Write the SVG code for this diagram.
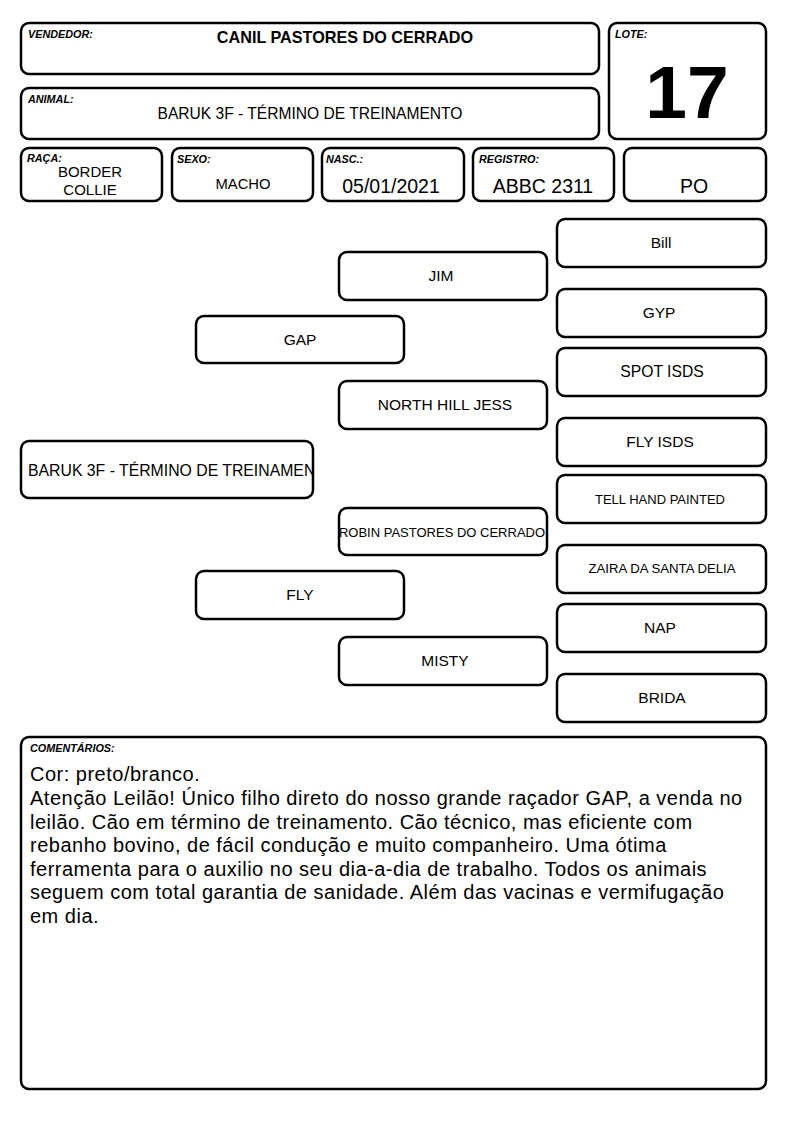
<svg xmlns="http://www.w3.org/2000/svg" width="794" height="1123" viewBox="0 0 794 1123">
<defs>
<style>
.b{fill:#fff;stroke:#000;stroke-width:2.5}
.lbl{font-family:"Liberation Sans",Arial,sans-serif;font-weight:bold;font-style:italic;font-size:10.8px;fill:#000}
.t{font-family:"Liberation Sans",Arial,sans-serif;fill:#000;text-anchor:middle}
.c{font-family:"Liberation Sans",Arial,sans-serif;font-size:20px;letter-spacing:0.5px;fill:#000}
</style>
<clipPath id="clipBaruk"><rect x="22" y="442" width="290" height="55"/></clipPath>
</defs>
<rect width="794" height="1123" fill="#fff"/>
<g id="vendedor">
<rect class="b" x="21" y="23" width="578" height="51" rx="8"/>
<text class="lbl" x="28" y="38">VENDEDOR:</text>
<text class="t" x="345" y="43" font-size="16.2" font-weight="bold">CANIL PASTORES DO CERRADO</text>
</g>
<g id="animal">
<rect class="b" x="21" y="88" width="578" height="51" rx="8"/>
<text class="lbl" x="28" y="103">ANIMAL:</text>
<text class="t" x="310" y="119" font-size="15.6">BARUK 3F - TÉRMINO DE TREINAMENTO</text>
</g>
<g id="lote">
<rect class="b" x="609" y="23" width="157" height="116" rx="8"/>
<text class="lbl" x="615" y="38">LOTE:</text>
<text class="t" x="687" y="118" font-size="75" font-weight="bold">17</text>
</g>
<g id="raca">
<rect class="b" x="21" y="148" width="141" height="53" rx="8"/>
<text class="lbl" x="27" y="162">RAÇA:</text>
<text class="t" x="90" y="177" font-size="15">BORDER</text>
<text class="t" x="90" y="195" font-size="15">COLLIE</text>
</g>
<g id="sexo">
<rect class="b" x="172" y="148" width="141" height="53" rx="8"/>
<text class="lbl" x="177" y="163">SEXO:</text>
<text class="t" x="243" y="189" font-size="14.8">MACHO</text>
</g>
<g id="nasc">
<rect class="b" x="322" y="148" width="142" height="53" rx="8"/>
<text class="lbl" x="326" y="163">NASC.:</text>
<text class="t" x="391" y="193" font-size="19.5">05/01/2021</text>
</g>
<g id="registro">
<rect class="b" x="473" y="148" width="141" height="53" rx="8"/>
<text class="lbl" x="479" y="163">REGISTRO:</text>
<text class="t" x="543" y="193" font-size="19.5">ABBC 2311</text>
</g>
<g id="po">
<rect class="b" x="624" y="148" width="142" height="53" rx="8"/>
<text class="t" x="694" y="193" font-size="19.5">PO</text>
</g>
<g id="baruk">
<rect class="b" x="21" y="441" width="292" height="57" rx="8"/>
<text x="28" y="476" font-family="Liberation Sans,Arial,sans-serif" font-size="15.8" clip-path="url(#clipBaruk)">BARUK 3F - TÉRMINO DE TREINAMENTO</text>
</g>
<g id="gap">
<rect class="b" x="196" y="316" width="208" height="47" rx="8"/>
<text class="t" x="300" y="345" font-size="15.5">GAP</text>
</g>
<g id="fly">
<rect class="b" x="196" y="571" width="208" height="48" rx="8"/>
<text class="t" x="300" y="600" font-size="15.5">FLY</text>
</g>
<g id="jim">
<rect class="b" x="339" y="252" width="208" height="48" rx="8"/>
<text class="t" x="441" y="281" font-size="15.5">JIM</text>
</g>
<g id="northhilljess">
<rect class="b" x="339" y="381" width="208" height="48" rx="8"/>
<text class="t" x="445" y="410" font-size="15.5">NORTH HILL JESS</text>
</g>
<g id="robin">
<rect class="b" x="339" y="508" width="208" height="47" rx="8"/>
<text class="t" x="442" y="537" font-size="13">ROBIN PASTORES DO CERRADO</text>
</g>
<g id="misty">
<rect class="b" x="339" y="637" width="208" height="48" rx="8"/>
<text class="t" x="445" y="666" font-size="15.5">MISTY</text>
</g>
<g id="bill">
<rect class="b" x="557" y="219" width="209" height="48" rx="8"/>
<text class="t" x="661" y="248" font-size="15.5">Bill</text>
</g>
<g id="gyp">
<rect class="b" x="557" y="289" width="209" height="48" rx="8"/>
<text class="t" x="659" y="318" font-size="15.5">GYP</text>
</g>
<g id="spotisds">
<rect class="b" x="557" y="348" width="209" height="48" rx="8"/>
<text class="t" x="662" y="377" font-size="15.7">SPOT ISDS</text>
</g>
<g id="flyisds">
<rect class="b" x="557" y="418" width="209" height="48" rx="8"/>
<text class="t" x="660" y="447" font-size="15.5">FLY ISDS</text>
</g>
<g id="tellhandpainted">
<rect class="b" x="557" y="475" width="209" height="48" rx="8"/>
<text class="t" x="660" y="504" font-size="13">TELL HAND PAINTED</text>
</g>
<g id="zaira">
<rect class="b" x="557" y="545" width="209" height="48" rx="8"/>
<text class="t" x="662" y="573" font-size="13.2">ZAIRA DA SANTA DELIA</text>
</g>
<g id="nap">
<rect class="b" x="557" y="604" width="209" height="48" rx="8"/>
<text class="t" x="660" y="633" font-size="15.5">NAP</text>
</g>
<g id="brida">
<rect class="b" x="557" y="674" width="209" height="48" rx="8"/>
<text class="t" x="662" y="703" font-size="15.5">BRIDA</text>
</g>
<g id="connectors"></g>
<g id="comentarios">
<rect class="b" x="21" y="737" width="745" height="352" rx="8"/>
<text class="lbl" x="30" y="752">COMENTÁRIOS:</text>
<text class="c" x="30" y="781">Cor: preto/branco.</text>
<text class="c" x="30" y="805">Atenção Leilão! Único filho direto do nosso grande raçador GAP, a venda no</text>
<text class="c" x="30" y="829">leilão. Cão em término de treinamento. Cão técnico, mas eficiente com</text>
<text class="c" x="30" y="852">rebanho bovino, de fácil condução e muito companheiro. Uma ótima</text>
<text class="c" x="30" y="876">ferramenta para o auxilio no seu dia-a-dia de trabalho. Todos os animais</text>
<text class="c" x="30" y="899">seguem com total garantia de sanidade. Além das vacinas e vermifugação</text>
<text class="c" x="30" y="923">em dia.</text>
</g>
</svg>
